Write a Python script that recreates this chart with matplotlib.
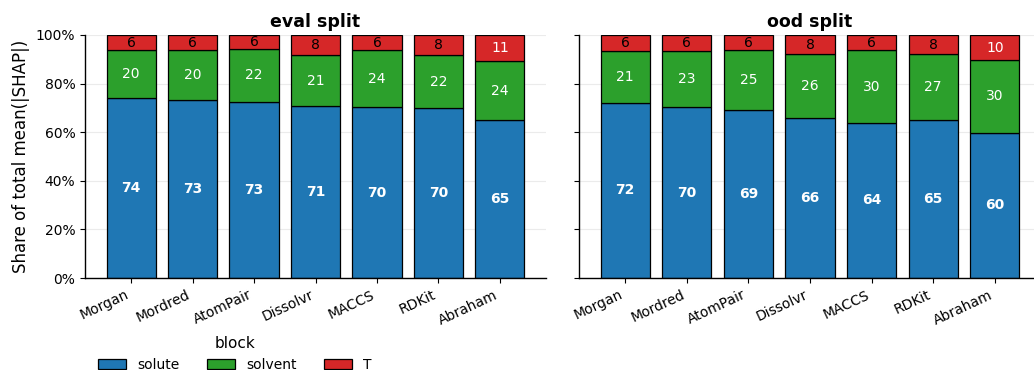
import matplotlib
matplotlib.use("Agg")
import matplotlib.pyplot as plt
import numpy as np
from matplotlib.ticker import PercentFormatter
from matplotlib.patches import Patch

# Feature sets (x categories)
featurizers = ["Morgan", "Mordred", "AtomPair", "Dissolvr", "MACCS", "RDKit", "Abraham"]

# Share (%) of total mean(|SHAP|) per block, eval split
eval_solute = [74.0, 73.2, 72.6, 70.7, 70.2, 69.9, 65.0]
eval_solvent = [19.7, 20.5, 21.8, 21.1, 23.6, 21.8, 24.2]
eval_T = [6.3, 6.3, 5.6, 8.2, 6.2, 8.3, 10.8]

# Share (%) of total mean(|SHAP|) per block, ood split
ood_solute = [72.2, 70.3, 69.2, 65.8, 63.9, 65.2, 59.8]
ood_solvent = [21.4, 23.3, 24.6, 26.2, 29.8, 26.8, 29.8]
ood_T = [6.4, 6.4, 6.2, 8.0, 6.3, 8.0, 10.4]

blocks = ["solute", "solvent", "T"]
block_colors = {"solute": "#1f77b4", "solvent": "#2ca02c", "T": "#d62728"}

W, H = 1034, 370
fig = plt.figure(figsize=(W / 100, H / 100), dpi=100)
plt.rcParams["font.family"] = ["DejaVu Sans"]

ax_l = fig.add_axes([85 / W, 1 - 278 / H, 461 / W, 243 / H])
ax_r = fig.add_axes([579 / W, 1 - 278 / H, 462 / W, 243 / H], sharey=ax_l)


def draw_panel(ax, title, solute, solvent, temp):
    x = np.arange(len(featurizers))
    bottom = np.zeros(len(featurizers))
    for name, vals in zip(blocks, [solute, solvent, temp]):
        vals = np.asarray(vals, dtype=float)
        ax.bar(x, vals, width=0.8, bottom=bottom, color=block_colors[name],
               edgecolor="black", linewidth=0.9, zorder=2)
        for xi, b, v in zip(x, bottom, vals):
            color = "white" if v >= 10 else "black"
            weight = "bold" if name == "solute" else "normal"
            ax.text(xi, b + v / 2, f"{v:.0f}", ha="center", va="center",
                    color=color, fontsize=10, fontweight=weight, zorder=3)
        bottom += vals
    ax.set_xlim(-0.75, len(featurizers) - 0.25)
    ax.set_ylim(0, 100)
    ax.set_xticks(x)
    ax.set_xticklabels(featurizers, rotation=25, ha="right", fontsize=10)
    ax.set_yticks(np.arange(0, 101, 20))
    ax.yaxis.set_major_formatter(PercentFormatter(100, decimals=0))
    ax.tick_params(axis="both", labelsize=10, length=3.5, width=0.8)
    ax.grid(axis="y", color="#ebebeb", linewidth=0.8, zorder=0)
    ax.set_axisbelow(True)
    for side in ["top", "right"]:
        ax.spines[side].set_visible(False)
    for side in ["left", "bottom"]:
        ax.spines[side].set_linewidth(1.0)
    ax.set_title(title, fontsize=12.5, fontweight="bold", pad=6)


draw_panel(ax_l, "eval split", eval_solute, eval_solvent, eval_T)
draw_panel(ax_r, "ood split", ood_solute, ood_solvent, ood_T)
ax_l.set_ylabel("Share of total mean(|SHAP|)", fontsize=12)
plt.setp(ax_r.get_yticklabels(), visible=False)

handles = [Patch(facecolor=block_colors[b], edgecolor="black", linewidth=0.9, label=b)
           for b in blocks]
leg = fig.legend(handles=handles, title="block", ncol=3, frameon=False,
                 loc="upper left", bbox_to_anchor=(85.5 / W, 1 - 323.5 / H),
                 fontsize=10, title_fontsize=11)

fig.savefig("out.png", dpi=100)
